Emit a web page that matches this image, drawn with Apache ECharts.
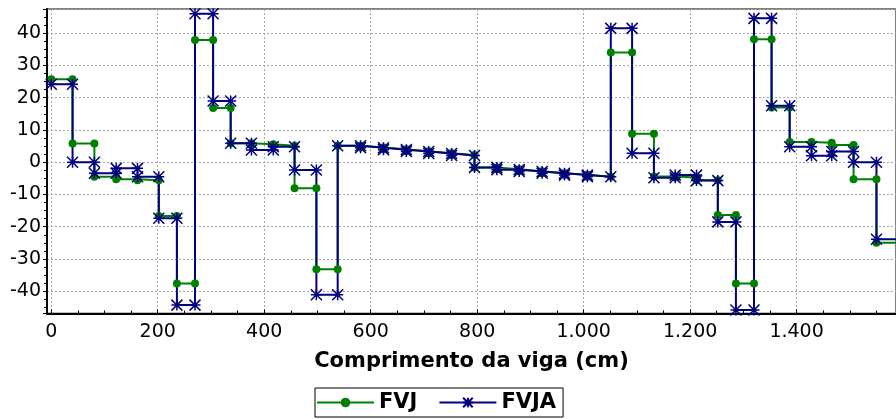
<!DOCTYPE html>
<html>
<head>
<meta charset="utf-8">
<title>FVJ x FVJA</title>
<script src="https://cdn.jsdelivr.net/npm/echarts@6/dist/echarts.min.js"></script>
<style>
  html, body { margin: 0; padding: 0; background: #fff; }
  #chart { width: 896px; height: 419px; }
</style>
</head>
<body>
<div id="chart"></div>
<script>
// posições dos nós ao longo da viga (cm) - limites de cada trecho
const nodes = [0, 40, 81, 122, 162, 202, 236, 270, 304, 337, 376, 417, 457, 498, 538,
  581, 624, 667, 709, 752, 795, 837, 879, 922, 964, 1007, 1051, 1091, 1132, 1172,
  1212, 1252, 1286, 1320, 1353, 1387, 1428, 1466, 1507, 1550, 1590];

// valor constante em cada trecho
const fvj = [25.7, 5.8, -4.5, -5.3, -5.6, -16.7, -37.6, 37.9, 16.8, 5.9, 5.6, 5.1, -8.1, -33.2,
  5.1, 4.6, 4.0, 3.4, 2.8, 2.2, -1.6, -2.2, -2.8, -3.4, -3.9, -4.5, 34.0, 8.8, -4.4, -4.7,
  -5.6, -16.4, -37.6, 38.1, 17.0, 6.3, 6.0, 5.3, -5.3, -25.0];
const fvja = [24.2, 0, -3.4, -1.9, -4.5, -17.4, -44.3, 46.0, 19.0, 5.9, 3.8, 4.8, -2.4, -41.1,
  5.1, 4.5, 3.9, 3.3, 2.7, 2.1, -1.6, -2.3, -2.9, -3.4, -4.0, -4.5, 41.5, 2.8, -4.8, -4.0,
  -5.7, -18.5, -45.8, 44.6, 17.5, 4.8, 2.0, 3.3, 0, -23.9];

const seriesNames = ['FVJ', 'FVJA'];

// cada trecho vira dois pontos (início e fim) -> degraus
const toSteps = (values) => {
  const pts = [];
  values.forEach((v, i) => {
    pts.push([nodes[i], v]);
    pts.push([nodes[i + 1], v]);
  });
  return pts;
};

// separador de milhar "."
const fmtThousands = (v) => String(v).replace(/\B(?=(\d{3})+(?!\d))/g, '.');

const FONT = 'DejaVu Sans';
const starPath = 'path://M0 0L10 10M10 0L0 10M0 5L10 5M5 0L5 10';

const chart = echarts.init(document.getElementById('chart'));

const option = {
  animation: false,
  grid: {
    left: 47,
    right: -2,
    top: 9,
    bottom: 105.5,
    show: true,
    borderColor: '#808080',
    borderWidth: 2
  },
  legend: {
    data: seriesNames,
    left: 315,
    top: 388,
    padding: [4, 7, 4, 1],
    itemWidth: 57,
    itemHeight: 12,
    itemGap: 21,
    borderColor: '#000',
    borderWidth: 1,
    textStyle: { fontFamily: FONT, fontSize: 21, fontWeight: 'bold', color: '#000' }
  },
  xAxis: {
    type: 'value',
    min: -8,
    max: 1586.7,
    minInterval: 200,
    maxInterval: 200,
    name: 'Comprimento da viga (cm)',
    nameLocation: 'middle',
    nameGap: 38,
    nameTextStyle: { fontFamily: FONT, fontSize: 21, fontWeight: 'bold', color: '#000' },
    axisLine: { onZero: false, lineStyle: { color: '#000', width: 2 } },
    axisTick: { inside: true, length: 4, lineStyle: { color: '#000' } },
    minorTick: { show: true, splitNumber: 4, length: 3, lineStyle: { color: '#000' } },
    axisLabel: {
      fontFamily: FONT, fontSize: 19, color: '#000', margin: 9,
      showMinLabel: false, showMaxLabel: false,
      formatter: (v) => (v % 200 === 0 ? fmtThousands(v) : '')
    },
    splitLine: { lineStyle: { color: '#a8a8a8', type: [2, 2], width: 1 } }
  },
  yAxis: {
    type: 'value',
    min: -46.9,
    max: 47.5,
    minInterval: 10,
    maxInterval: 10,
    axisLine: { show: true, onZero: false, lineStyle: { color: '#000', width: 2 } },
    axisTick: { show: true, length: 4, lineStyle: { color: '#000' } },
    minorTick: { show: true, splitNumber: 4, length: 3, lineStyle: { color: '#000' } },
    axisLabel: {
      fontFamily: FONT, fontSize: 19, color: '#000', margin: 6,
      showMinLabel: false, showMaxLabel: false,
      formatter: (v) => (v % 10 === 0 ? String(v) : '')
    },
    splitLine: { lineStyle: { color: '#a8a8a8', type: [2, 2], width: 1 } }
  },
  series: [
    {
      name: seriesNames[0],
      type: 'line',
      data: toSteps(fvj),
      symbol: 'circle',
      symbolSize: 8,
      showAllSymbol: true,
      lineStyle: { color: '#008000', width: 2 },
      itemStyle: { color: '#008000', borderWidth: 0 }
    },
    {
      name: seriesNames[1],
      type: 'line',
      data: toSteps(fvja),
      symbol: starPath,
      symbolSize: 11,
      showAllSymbol: true,
      lineStyle: { color: '#000080', width: 2 },
      itemStyle: { color: '#000080', borderColor: '#000080', borderWidth: 1.5 }
    }
  ]
};

chart.setOption(option);
</script>
</body>
</html>
